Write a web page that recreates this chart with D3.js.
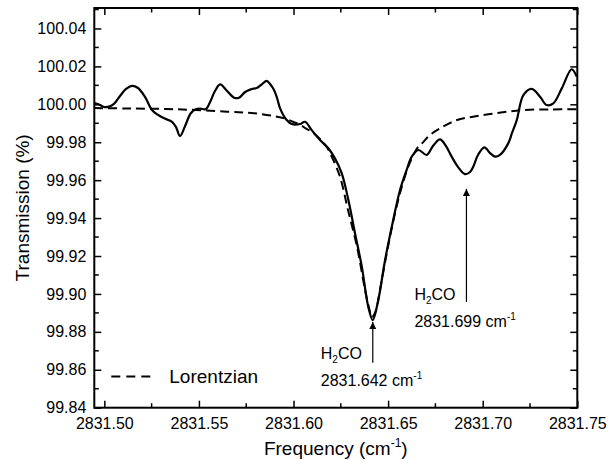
<!DOCTYPE html>
<html>
<head>
<meta charset="utf-8">
<script src="https://cdn.jsdelivr.net/npm/d3@7"></script>
<style>
  body { margin: 0; background: #fff; }
  svg { font-family: "Liberation Sans", Arial, sans-serif; }
</style>
</head>
<body>
<svg id="chart" width="608" height="460"></svg>
<script>
// measured spectrum (frequency in cm-1, transmission in %)
const measFreq = [2831.4946, 2831.4972, 2831.4998, 2831.5025, 2831.5051, 2831.5083, 2831.5115, 2831.5146,
  2831.5178, 2831.5215, 2831.5252, 2831.5284, 2831.5316, 2831.5358, 2831.5379, 2831.5400, 2831.5427,
  2831.5457, 2831.5483, 2831.5506, 2831.5536, 2831.5559, 2831.5585, 2831.5612, 2831.5649, 2831.5686,
  2831.5712, 2831.5744, 2831.5774, 2831.5809, 2831.5834, 2831.5858, 2831.5876, 2831.5897, 2831.5913,
  2831.5929, 2831.5964, 2831.5991, 2831.6034, 2831.6061, 2831.6096, 2831.6140, 2831.6184, 2831.6219,
  2831.6255, 2831.6290, 2831.6325, 2831.6361, 2831.6395, 2831.6419, 2831.6448, 2831.6484, 2831.6527,
  2831.6563, 2831.6598, 2831.6625, 2831.6660, 2831.6704, 2831.6737, 2831.6774, 2831.6806, 2831.6836,
  2831.6870, 2831.6906, 2831.6933, 2831.6950, 2831.6975, 2831.7009, 2831.7039, 2831.7065, 2831.7091,
  2831.7135, 2831.7155, 2831.7180, 2831.7215, 2831.7259, 2831.7303, 2831.7338, 2831.7373, 2831.7418,
  2831.7470, 2831.7497];
const measTrans = [100.0007, 99.9999, 99.9986, 99.9988, 100.0002, 100.0044, 100.0081, 100.0097,
  100.0086, 100.0039, 99.9970, 99.9944, 99.9926, 99.9908, 99.9880, 99.9833, 99.9886,
  99.9953, 99.9974, 99.9978, 99.9974, 100.0012, 100.0070, 100.0105, 100.0070, 100.0035,
  100.0035, 100.0065, 100.0079, 100.0088, 100.0107, 100.0124, 100.0107, 100.0075, 100.0033,
  99.9979, 99.9917, 99.9896, 99.9896, 99.9908, 99.9864, 99.9812, 99.9768, 99.9715,
  99.9636, 99.9495, 99.9320, 99.9144, 99.8933, 99.8862, 99.8968, 99.9179, 99.9390,
  99.9548, 99.9654, 99.9724, 99.9759, 99.9733, 99.9780, 99.9815, 99.9780, 99.9724,
  99.9669, 99.9632, 99.9643, 99.9671, 99.9733, 99.9773, 99.9743, 99.9724, 99.9733,
  99.9794, 99.9849, 99.9917, 100.0049, 100.0081, 100.0040, 99.9996, 100.0005, 100.0084,
  100.0185, 100.0146];

// Lorentzian fit
const fitFreq = [2831.4946, 2831.5136, 2831.5384, 2831.5649, 2831.5791, 2831.5897, 2831.5955, 2831.5997,
  2831.6034, 2831.6061, 2831.6098, 2831.6140, 2831.6172, 2831.6203, 2831.6246, 2831.6288, 2831.6336,
  2831.6378, 2831.6399, 2831.6415, 2831.6436, 2831.6457, 2831.6484, 2831.6526, 2831.6563, 2831.6600,
  2831.6626, 2831.6653, 2831.6679, 2831.6721, 2831.6774, 2831.6864, 2831.6949, 2831.7039, 2831.7128,
  2831.7213, 2831.7356, 2831.7498];
const fitTrans = [99.9980, 99.9978, 99.9974, 99.9961, 99.9953, 99.9938, 99.9925, 99.9908,
  99.9893, 99.9875, 99.9854, 99.9817, 99.9780, 99.9722, 99.9617, 99.9443, 99.9247,
  99.9021, 99.8926, 99.8878, 99.8915, 99.9021, 99.9168, 99.9379, 99.9532, 99.9654,
  99.9717, 99.9768, 99.9794, 99.9838, 99.9873, 99.9917, 99.9935, 99.9949, 99.9961,
  99.9970, 99.9973, 99.9974];

const xMajor = [2831.50, 2831.55, 2831.60, 2831.65, 2831.70, 2831.75];
const xMinor = [2831.525, 2831.575, 2831.625, 2831.675, 2831.725];
const yMajor = [99.84, 99.86, 99.88, 99.90, 99.92, 99.94, 99.96, 99.98, 100.00, 100.02, 100.04];
const yMinor = [99.85, 99.87, 99.89, 99.91, 99.93, 99.95, 99.97, 99.99, 100.01, 100.03, 100.05];

// annotation arrows: freq at arrow, transmission at tip and at tail
const peakLabels = [
  { line1: "2831.642", freq: 2831.6419, tip: 99.8852, tail: 99.8637, side: "center" },
  { line1: "2831.699", freq: 2831.6914, tip: 99.9554, tail: 99.8958, side: "left" }
];

const width = 608, height = 460;
const margin = { top: 8, right: 30.7, bottom: 52.3, left: 94.3 };

const svg = d3.select("#chart");

const x = d3.scaleLinear()
    .domain([2831.4947, 2831.75])
    .range([margin.left, width - margin.right]);
const y = d3.scaleLinear()
    .domain([99.84, 100.0508])
    .range([height - margin.bottom, margin.top]);

const x0 = x.range()[0], x1 = x.range()[1];
const y0 = y.range()[0], y1 = y.range()[1];

// axes, ticks pointing inward
svg.append("g")
    .attr("transform", `translate(0,${y0})`)
    .call(d3.axisBottom(x).tickValues(xMajor).tickFormat(d3.format(".2f"))
      .tickSizeInner(-7).tickSizeOuter(0).tickPadding(10))
    .call(g => g.select(".domain").remove())
    .call(g => g.selectAll("text").style("font-size", "16px").attr("fill", "#000"));

svg.append("g")
    .attr("transform", `translate(${x0},0)`)
    .call(d3.axisLeft(y).tickValues(yMajor).tickFormat(d3.format(".2f"))
      .tickSizeInner(-7).tickSizeOuter(0).tickPadding(8))
    .call(g => g.select(".domain").remove())
    .call(g => g.selectAll("text").style("font-size", "16px").attr("fill", "#000"));

svg.append("g")
    .attr("transform", `translate(0,${y1})`)
    .call(d3.axisTop(x).tickValues(xMajor).tickFormat("").tickSizeInner(-7).tickSizeOuter(0))
    .call(g => g.select(".domain").remove());

svg.append("g")
    .attr("transform", `translate(${x1},0)`)
    .call(d3.axisRight(y).tickValues(yMajor).tickFormat("").tickSizeInner(-7).tickSizeOuter(0))
    .call(g => g.select(".domain").remove());

svg.selectAll(".tick line").attr("stroke", "#000").attr("stroke-width", 1.5);

// minor ticks
const minor = svg.append("g").attr("stroke", "#000").attr("stroke-width", 1.5);
minor.selectAll(".mxb").data(xMinor).join("line")
    .attr("x1", d => x(d)).attr("x2", d => x(d)).attr("y1", y0).attr("y2", y0 - 4.5);
minor.selectAll(".mxt").data(xMinor).join("line")
    .attr("x1", d => x(d)).attr("x2", d => x(d)).attr("y1", y1).attr("y2", y1 + 4.5);
minor.selectAll(".myl").data(yMinor).join("line")
    .attr("y1", d => y(d)).attr("y2", d => y(d)).attr("x1", x0).attr("x2", x0 + 4.5);
minor.selectAll(".myr").data(yMinor).join("line")
    .attr("y1", d => y(d)).attr("y2", d => y(d)).attr("x1", x1).attr("x2", x1 - 4.5);

// frame
svg.append("rect")
    .attr("x", x0).attr("y", y1)
    .attr("width", x1 - x0).attr("height", y0 - y1)
    .attr("fill", "none").attr("stroke", "#000").attr("stroke-width", 2);

// curves
const line = d3.line()
    .x(d => x(d[0]))
    .y(d => y(d[1]))
    .curve(d3.curveCatmullRom.alpha(0.5));

svg.append("path")
    .datum(fitFreq.map((f, i) => [f, fitTrans[i]]))
    .attr("fill", "none").attr("stroke", "#000").attr("stroke-width", 2)
    .attr("stroke-dasharray", "9,5")
    .attr("d", line);

svg.append("path")
    .datum(measFreq.map((f, i) => [f, measTrans[i]]))
    .attr("fill", "none").attr("stroke", "#000").attr("stroke-width", 2.2)
    .attr("stroke-linejoin", "round")
    .attr("d", line);

// arrows + labels
svg.append("defs").append("marker")
    .attr("id", "head")
    .attr("viewBox", "0 0 10 10")
    .attr("refX", 10).attr("refY", 5)
    .attr("markerWidth", 11).attr("markerHeight", 7)
    .attr("markerUnits", "userSpaceOnUse")
    .attr("orient", "auto")
  .append("path")
    .attr("d", "M0,0 L10,5 L0,10 Z")
    .attr("fill", "#000");

peakLabels.forEach(p => {
  const ax = x(p.freq);
  svg.append("line")
      .attr("x1", ax).attr("x2", ax)
      .attr("y1", y(p.tail)).attr("y2", y(p.tip))
      .attr("stroke", "#000").attr("stroke-width", 1.2)
      .attr("marker-end", "url(#head)");

  const tx = ax - 52;
  const yA = p.side === "center" ? y(p.tail) - 4 : y(p.tail) - 1.5;
  const yB = yA + 27;

  const h = svg.append("text")
      .attr("x", tx).attr("y", yA)
      .style("font-size", "16px");
  h.append("tspan").text("H");
  h.append("tspan").attr("dy", 4).style("font-size", "10px").text("2");
  h.append("tspan").attr("dy", -4).text("CO");

  const c = svg.append("text")
      .attr("x", tx).attr("y", yB)
      .style("font-size", "16px");
  c.append("tspan").text(p.line1 + " cm");
  c.append("tspan").attr("dy", -7).style("font-size", "10px").text("-1");
});

// legend
const legend = svg.append("g");
legend.append("line")
    .attr("x1", x0 + 17).attr("x2", x0 + 62)
    .attr("y1", y(99.8565)).attr("y2", y(99.8565))
    .attr("stroke", "#000").attr("stroke-width", 2)
    .attr("stroke-dasharray", "9,6");
legend.append("text")
    .attr("x", x0 + 75).attr("y", y(99.8565))
    .attr("dy", "0.35em")
    .style("font-size", "19px")
    .text("Lorentzian");

// axis titles
const xt = svg.append("text")
    .attr("x", (x0 + x1) / 2).attr("y", 455)
    .attr("text-anchor", "middle")
    .style("font-size", "19px");
xt.append("tspan").text("Frequency (cm");
xt.append("tspan").attr("dy", -8).style("font-size", "12px").text("-1");
xt.append("tspan").attr("dy", 8).text(")");

svg.append("text")
    .attr("transform", `translate(29,${(y0 + y1) / 2}) rotate(-90)`)
    .attr("text-anchor", "middle")
    .style("font-size", "19px")
    .text("Transmission (%)");
</script>
</body>
</html>
